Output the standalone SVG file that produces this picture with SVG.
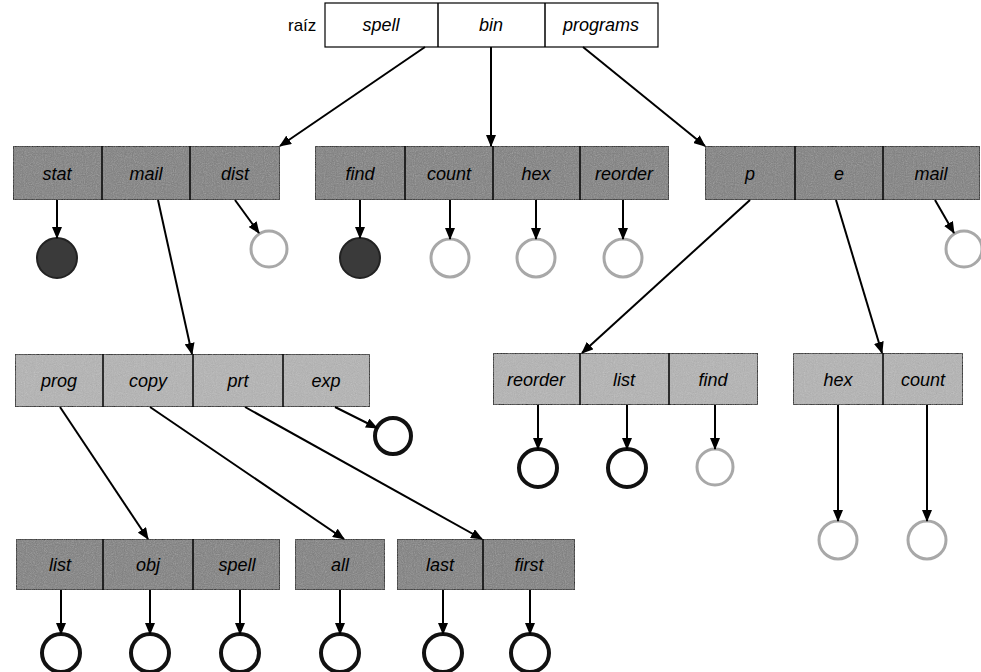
<svg xmlns="http://www.w3.org/2000/svg" width="981" height="672" viewBox="0 0 981 672">
<defs>
<marker id="ah" markerWidth="12" markerHeight="10" refX="11" refY="5" orient="auto" markerUnits="userSpaceOnUse">
<path d="M0,0 L12,5 L0,10 Z" fill="#000"/>
</marker>
<filter id="grain" x="0" y="0" width="100%" height="100%">
<feTurbulence type="fractalNoise" baseFrequency="0.9" numOctaves="2" seed="3" result="n"/>
<feColorMatrix in="n" type="saturate" values="0" result="g"/>
<feComponentTransfer in="g" result="g2"><feFuncA type="table" tableValues="0 0.35"/></feComponentTransfer>
<feComposite in="g2" in2="SourceGraphic" operator="in" result="m"/>
<feMerge><feMergeNode in="SourceGraphic"/><feMergeNode in="m"/></feMerge>
</filter>
</defs>
<style>
.root{fill:#fff;stroke:#000;stroke-width:1.2}
.dark{fill:#7e7e7e;stroke:#000;stroke-width:2;filter:url(#grain)}
.light{fill:#b4b4b4;stroke:#000;stroke-width:2;filter:url(#grain)}
.div{stroke:#000;stroke-width:1.5}
.t{font-family:"Liberation Sans",Arial,sans-serif;font-style:italic;font-size:18px;text-anchor:middle;fill:#000}
.tr{font-family:"Liberation Sans",Arial,sans-serif;font-size:17px;fill:#000}
.conn line{stroke:#000;stroke-width:2;marker-end:url(#ah)}
.fc{fill:#3a3a3a;stroke:#222;stroke-width:2}
.oc{fill:#fff;stroke:#a8a8a8;stroke-width:3}
.bc{fill:#fff;stroke:#111;stroke-width:4}
</style>

<g id="root">
<text class="tr" x="288" y="31">raíz</text>
<rect class="root" x="325" y="3" width="333" height="44"/>
<line class="div" x1="438" y1="3" x2="438" y2="47"/>
<line class="div" x1="545" y1="3" x2="545" y2="47"/>
<text class="t" x="381" y="31">spell</text>
<text class="t" x="491" y="31">bin</text>
<text class="t" x="601" y="31">programs</text>
</g>

<g id="dir-spell">
<rect class="dark" x="13" y="146" width="267" height="54"/>
<line class="div" x1="102" y1="146" x2="102" y2="200"/>
<line class="div" x1="190" y1="146" x2="190" y2="200"/>
<text class="t" x="57" y="180">stat</text>
<text class="t" x="146" y="180">mail</text>
<text class="t" x="235" y="180">dist</text>
</g>

<g id="dir-bin">
<rect class="dark" x="315" y="146" width="354" height="54"/>
<line class="div" x1="405" y1="146" x2="405" y2="200"/>
<line class="div" x1="493" y1="146" x2="493" y2="200"/>
<line class="div" x1="580" y1="146" x2="580" y2="200"/>
<text class="t" x="360" y="180">find</text>
<text class="t" x="449" y="180">count</text>
<text class="t" x="536" y="180">hex</text>
<text class="t" x="624" y="180">reorder</text>
</g>

<g id="dir-programs">
<rect class="dark" x="705" y="146" width="275" height="54"/>
<line class="div" x1="795" y1="146" x2="795" y2="200"/>
<line class="div" x1="883" y1="146" x2="883" y2="200"/>
<text class="t" x="750" y="180">p</text>
<text class="t" x="839" y="180">e</text>
<text class="t" x="931" y="180">mail</text>
</g>

<g id="dir-mail">
<rect class="light" x="15" y="354" width="355" height="53"/>
<line class="div" x1="103" y1="354" x2="103" y2="407"/>
<line class="div" x1="193" y1="354" x2="193" y2="407"/>
<line class="div" x1="283" y1="354" x2="283" y2="407"/>
<text class="t" x="59" y="387">prog</text>
<text class="t" x="148" y="387">copy</text>
<text class="t" x="238" y="387">prt</text>
<text class="t" x="326" y="387">exp</text>
</g>

<g id="dir-p">
<rect class="light" x="493" y="353" width="265" height="52"/>
<line class="div" x1="580" y1="353" x2="580" y2="405"/>
<line class="div" x1="669" y1="353" x2="669" y2="405"/>
<text class="t" x="536" y="386">reorder</text>
<text class="t" x="624" y="386">list</text>
<text class="t" x="713" y="386">find</text>
</g>

<g id="dir-e">
<rect class="light" x="793" y="353" width="170" height="52"/>
<line class="div" x1="883" y1="353" x2="883" y2="405"/>
<text class="t" x="838" y="386">hex</text>
<text class="t" x="923" y="386">count</text>
</g>

<g id="dir-prog">
<rect class="dark" x="16" y="539" width="264" height="51"/>
<line class="div" x1="103" y1="539" x2="103" y2="590"/>
<line class="div" x1="193" y1="539" x2="193" y2="590"/>
<text class="t" x="60" y="571">list</text>
<text class="t" x="148" y="571">obj</text>
<text class="t" x="237" y="571">spell</text>
</g>

<g id="dir-copy">
<rect class="dark" x="295" y="539" width="90" height="51"/>
<text class="t" x="340" y="571">all</text>
</g>

<g id="dir-prt">
<rect class="dark" x="397" y="539" width="178" height="51"/>
<line class="div" x1="483" y1="539" x2="483" y2="590"/>
<text class="t" x="440" y="571">last</text>
<text class="t" x="529" y="571">first</text>
</g>

<g id="files">
<circle class="fc" cx="57" cy="258" r="20"/>
<circle class="oc" cx="269" cy="249" r="18"/>
<circle class="fc" cx="360" cy="258" r="20"/>
<circle class="oc" cx="450" cy="258" r="19"/>
<circle class="oc" cx="536" cy="258" r="19"/>
<circle class="oc" cx="623" cy="258" r="19"/>
<circle class="oc" cx="964" cy="249" r="18"/>
<circle class="bc" cx="393" cy="436" r="18"/>
<circle class="bc" cx="538" cy="468" r="19"/>
<circle class="bc" cx="627" cy="468" r="19"/>
<circle class="oc" cx="715" cy="467" r="18"/>
<circle class="oc" cx="838" cy="540" r="19"/>
<circle class="oc" cx="927" cy="540" r="19"/>
<circle class="bc" cx="61" cy="653" r="19"/>
<circle class="bc" cx="150" cy="653" r="19"/>
<circle class="bc" cx="240" cy="653" r="19"/>
<circle class="bc" cx="340" cy="653" r="19"/>
<circle class="bc" cx="443" cy="653" r="19"/>
<circle class="bc" cx="530" cy="653" r="19"/>
</g>

<g id="connectors" class="conn">
<line x1="425" y1="47" x2="280" y2="146"/>
<line x1="491" y1="47" x2="491" y2="146"/>
<line x1="583" y1="47" x2="705" y2="146"/>
<line x1="57" y1="200" x2="57" y2="238"/>
<line x1="235" y1="200" x2="259" y2="233"/>
<line x1="360" y1="200" x2="360" y2="238"/>
<line x1="450" y1="200" x2="450" y2="239"/>
<line x1="536" y1="200" x2="536" y2="239"/>
<line x1="623" y1="200" x2="623" y2="239"/>
<line x1="935" y1="200" x2="954" y2="233"/>
<line x1="158" y1="200" x2="192" y2="354"/>
<line x1="750" y1="200" x2="582" y2="353"/>
<line x1="836" y1="200" x2="882" y2="353"/>
<line x1="335" y1="407" x2="377" y2="428"/>
<line x1="538" y1="405" x2="538" y2="449"/>
<line x1="627" y1="405" x2="627" y2="449"/>
<line x1="715" y1="405" x2="715" y2="449"/>
<line x1="838" y1="405" x2="838" y2="521"/>
<line x1="927" y1="405" x2="927" y2="521"/>
<line x1="60" y1="407" x2="148" y2="539"/>
<line x1="150" y1="407" x2="344" y2="539"/>
<line x1="245" y1="407" x2="482" y2="539"/>
<line x1="61" y1="590" x2="61" y2="634"/>
<line x1="150" y1="590" x2="150" y2="634"/>
<line x1="240" y1="590" x2="240" y2="634"/>
<line x1="340" y1="590" x2="340" y2="634"/>
<line x1="443" y1="590" x2="443" y2="634"/>
<line x1="530" y1="590" x2="530" y2="634"/>
</g>
</svg>
